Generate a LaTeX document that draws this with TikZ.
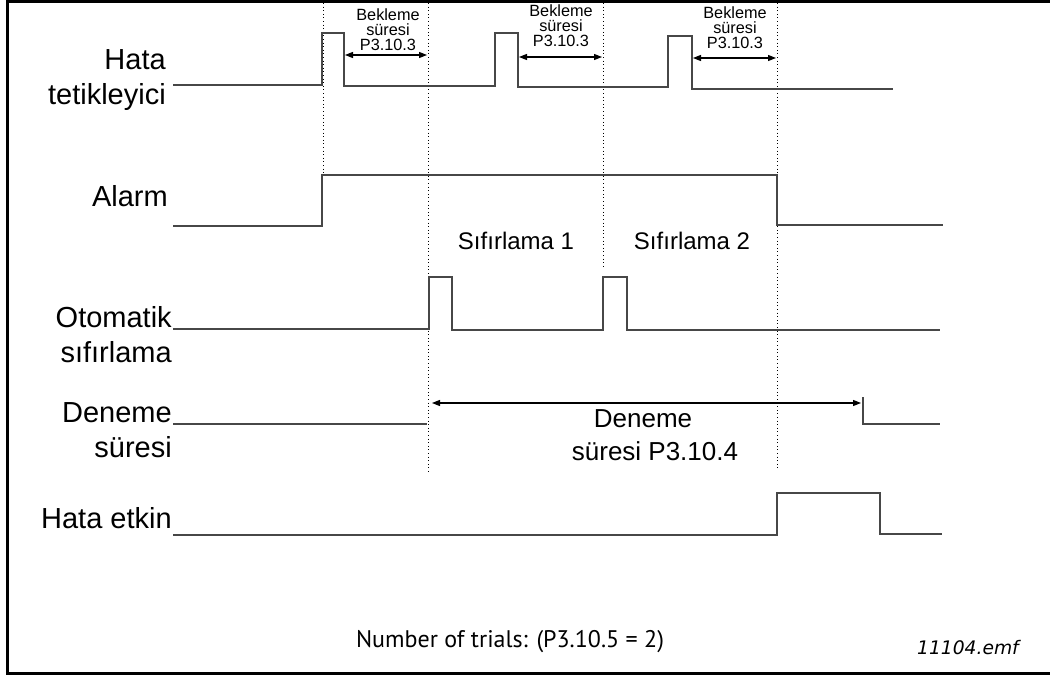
\documentclass[tikz,border=0pt]{standalone}
\usepackage{fontspec}
\setmainfont{Liberation Sans}
\newfontfamily\dinfont{PT Sans}
\newfontfamily\emffont{DejaVu Sans}
\usetikzlibrary{arrows.meta}
\begin{document}
\begin{tikzpicture}[x=0.75pt,y=-0.75pt,
  sig/.style={draw=black!72, line width=1.1pt, line join=miter},
  guide/.style={draw=black, dotted, line width=0.7pt},
  dim/.style={draw=black, line width=0.9pt, {Triangle[length=6pt,width=4.5pt]}-{Triangle[length=6pt,width=4.5pt]}},
  big/.style={font=\fontsize{21.75}{26.25}\selectfont, align=right, inner sep=0pt},
  mid/.style={font=\fontsize{18}{21}\selectfont, inner sep=0pt},
  small/.style={font=\fontsize{12.2}{11.2}\selectfont, inner sep=0pt, align=center}]
\useasboundingbox (0,0) rectangle (1050,679);
% frame
\draw[line width=2.6pt] (1050,1.5) -- (7.5,1.5) -- (7.5,673.5) -- (1050,673.5);
% guides
\draw[guide] (323,3) -- (323,173);
\draw[guide] (428,3) -- (428,472);
\draw[guide] (603,3) -- (603,268);
\draw[guide] (777,3) -- (777,470);
% labels
\node[big, anchor=east] (lhata) at (166,80) {Hata\\tetikleyici};
\node[big, anchor=east] (lalarm) at (168,196) {Alarm};
\node[big, anchor=east] (loto) at (172,335) {Otomatik\\sıfırlama};
\node[big, anchor=east] (lden) at (172,430) {Deneme\\süresi};
\node[big, anchor=east] (letk) at (172,518) {Hata etkin};
% signals
\draw[sig] (173,85) -- (322,85) -- (322,33) -- (344,33) -- (344,86) -- (495,86) -- (495,33) -- (518,33) -- (518,87) -- (668,87) -- (668,36) -- (692,36) -- (692,89) -- (893,89);
\draw[sig] (173,226) -- (322,226) -- (322,175) -- (777,175) -- (777,225) -- (943,225);
\draw[sig] (173,329) -- (429,329) -- (429,277) -- (452,277) -- (452,330) -- (603,330) -- (603,277) -- (627,277) -- (627,330) -- (940,330);
\draw[sig] (173,424) -- (427,424);
\draw[sig] (863,397) -- (863,424) -- (940,424);
\draw[sig] (173,535) -- (777,535) -- (777,493) -- (880,493) -- (880,534) -- (942,534);
% dimension arrows
\coordinate (b1a) at (345,55); \coordinate (b1b) at (427,55);
\coordinate (b2a) at (519,57); \coordinate (b2b) at (602,57);
\coordinate (b3a) at (693,58); \coordinate (b3b) at (776,58);
\coordinate (da) at (432,403); \coordinate (db) at (861,403);
\draw[dim] (b1a) -- (b1b);
\draw[dim] (b2a) -- (b2b);
\draw[dim] (b3a) -- (b3b);
\draw[dim] (da) -- (db);
\node[small] (t1) at (388,30) {Bekleme\\süresi\\P3.10.3};
\node[small] (t2) at (561,26) {Bekleme\\süresi\\P3.10.3};
\node[small] (t3) at (735,28) {Bekleme\\süresi\\P3.10.3};
\node[mid] (s1) at (516,241) {Sıfırlama 1};
\node[mid] (s2) at (692,241) {Sıfırlama 2};
\node[font=\fontsize{19.5}{23}\selectfont, inner sep=0pt] (d1) at (643,419) {Deneme};
\node[font=\fontsize{19.5}{23}\selectfont, inner sep=0pt] (d2) at (655,451) {süresi P3.10.4};
\node[font=\dinfont\fontsize{18}{20}\selectfont, inner sep=0pt] (nt) at (510,642) {Number of trials: (P3.10.5 = 2)};
\node[font=\emffont\itshape\fontsize{14}{16}\selectfont, inner sep=0pt] (emf) at (968,648) {11104.emf};
\end{tikzpicture}
\end{document}
